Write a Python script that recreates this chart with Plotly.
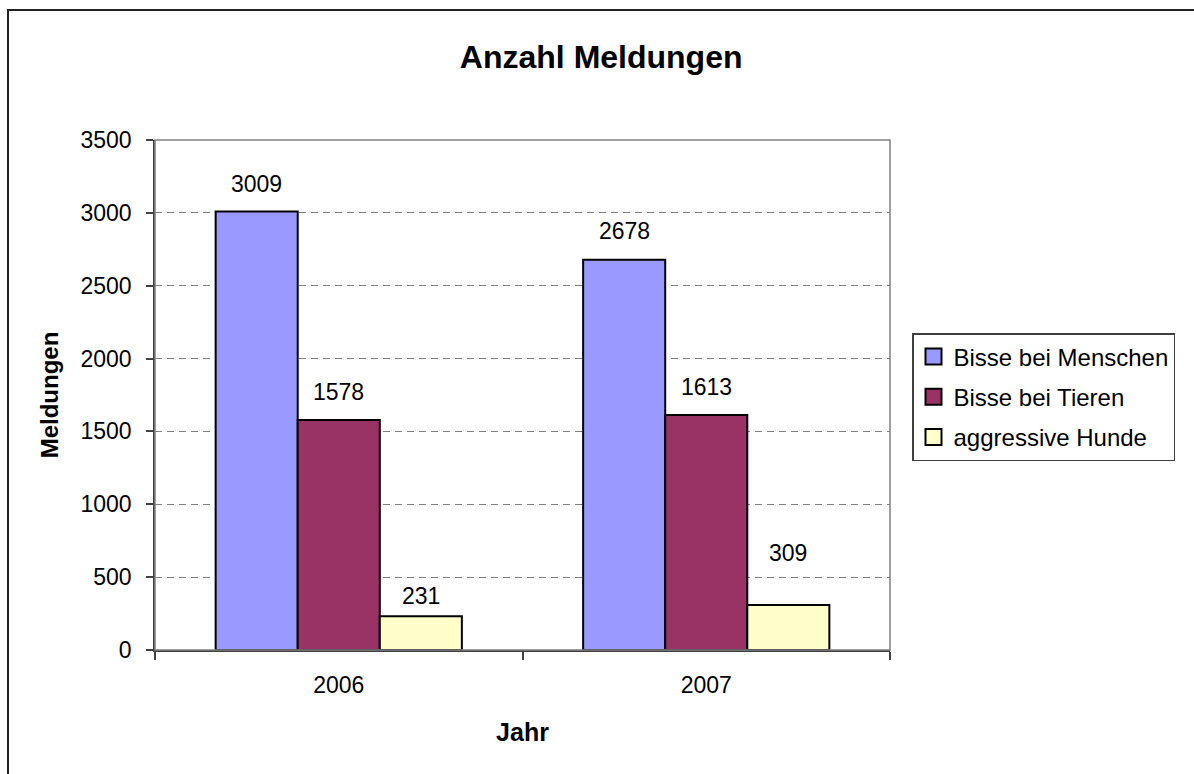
import plotly.graph_objects as go

# Data
years = ["2006", "2007"]
series = ["Bisse bei Menschen", "Bisse bei Tieren", "aggressive Hunde"]
menschen = [3009, 2678]
tiere = [1578, 1613]
hunde = [231, 309]
values = [menschen, tiere, hunde]

colors = ["#9999FF", "#993366", "#FFFFCC"]
# vertical offset (px) of each value label above its bar, per series / year
label_shift = [[28, 29], [28, 28], [20, 52]]

W, H = 1194, 774
L, R, T, B = 155, 304, 140, 124
BARGAP = 0.33

fig = go.Figure()

for name, vals, col in zip(series, values, colors):
    fig.add_trace(go.Bar(
        x=years, y=vals, name=name,
        marker=dict(color=col, line=dict(color="black", width=2)),
        showlegend=False, hoverinfo="x+y+name",
    ))
    # legend entry with larger square symbol
    fig.add_trace(go.Scatter(
        x=[None], y=[None], mode="markers", name=name, legendgroup=name,
        marker=dict(symbol="square", size=16, color=col,
                    line=dict(color="black", width=2)),
    ))

# value labels
bw = (1 - BARGAP) / len(series)
for j, vals in enumerate(values):
    for i, v in enumerate(vals):
        fig.add_annotation(
            x=i + (j - 1) * bw, y=v, xref="x", yref="y",
            text=str(v), showarrow=False,
            yshift=label_shift[j][i],
            font=dict(size=23, color="black"),
        )

pw = W - L - R
ph = H - T - B

def px_x(p):
    return (p - L) / pw

def px_y(p):
    return (H - B - p) / ph

shapes = [
    # plot area frame
    dict(type="rect", xref="paper", yref="paper", x0=0, x1=1, y0=0, y1=1,
         line=dict(color="#808080", width=1.5), layer="above"),
    # outer chart border
    dict(type="rect", xref="paper", yref="paper",
         x0=px_x(8), x1=px_x(W + 20), y0=px_y(H + 20), y1=px_y(10),
         line=dict(color="#222222", width=2)),
]

fig.update_layout(
    width=W, height=H,
    margin=dict(l=L, r=R, t=T, b=B, autoexpand=False),
    paper_bgcolor="white", plot_bgcolor="white",
    font=dict(family="Liberation Sans, Arial, sans-serif", color="black"),
    title=dict(text="<b>Anzahl Meldungen</b>", x=0.5035, xanchor="center",
               y=1 - 57 / H, yanchor="middle", font=dict(size=32)),
    barmode="group", bargap=BARGAP, bargroupgap=0,
    showlegend=True,
    legend=dict(x=px_x(912), y=px_y(333), xanchor="left", yanchor="top",
                bordercolor="#404040", borderwidth=1.5, bgcolor="white",
                font=dict(size=24), traceorder="grouped", tracegroupgap=6),
    shapes=shapes,
)

fig.update_xaxes(
    type="category", range=[-0.5, 1.5],
    showline=True, linecolor="#404040", linewidth=1.5,
    ticks="outside", tickson="boundaries", ticklen=8, tickcolor="#404040",
    tickwidth=1.5, tickfont=dict(size=23), ticklabelstandoff=14,
    showgrid=False,
    title=dict(text="<b>Jahr</b>", font=dict(size=25), standoff=26),
)

fig.update_yaxes(
    range=[0, 3500], dtick=500, tick0=0,
    showline=True, linecolor="#404040", linewidth=1.5,
    ticks="outside", ticklen=7, tickcolor="#404040", tickwidth=1.5,
    tickfont=dict(size=23), ticklabelstandoff=10,
    showgrid=True, gridcolor="#808080", gridwidth=1, griddash="7px,5px",
    zeroline=False,
    title=dict(text="<b>Meldungen</b>", font=dict(size=24), standoff=15),
)

# drop the browser's default page margin so the chart sits at (0, 0)
fig.write_html("out.html", config={"displayModeBar": False},
               post_script="document.body.style.margin='0';")
